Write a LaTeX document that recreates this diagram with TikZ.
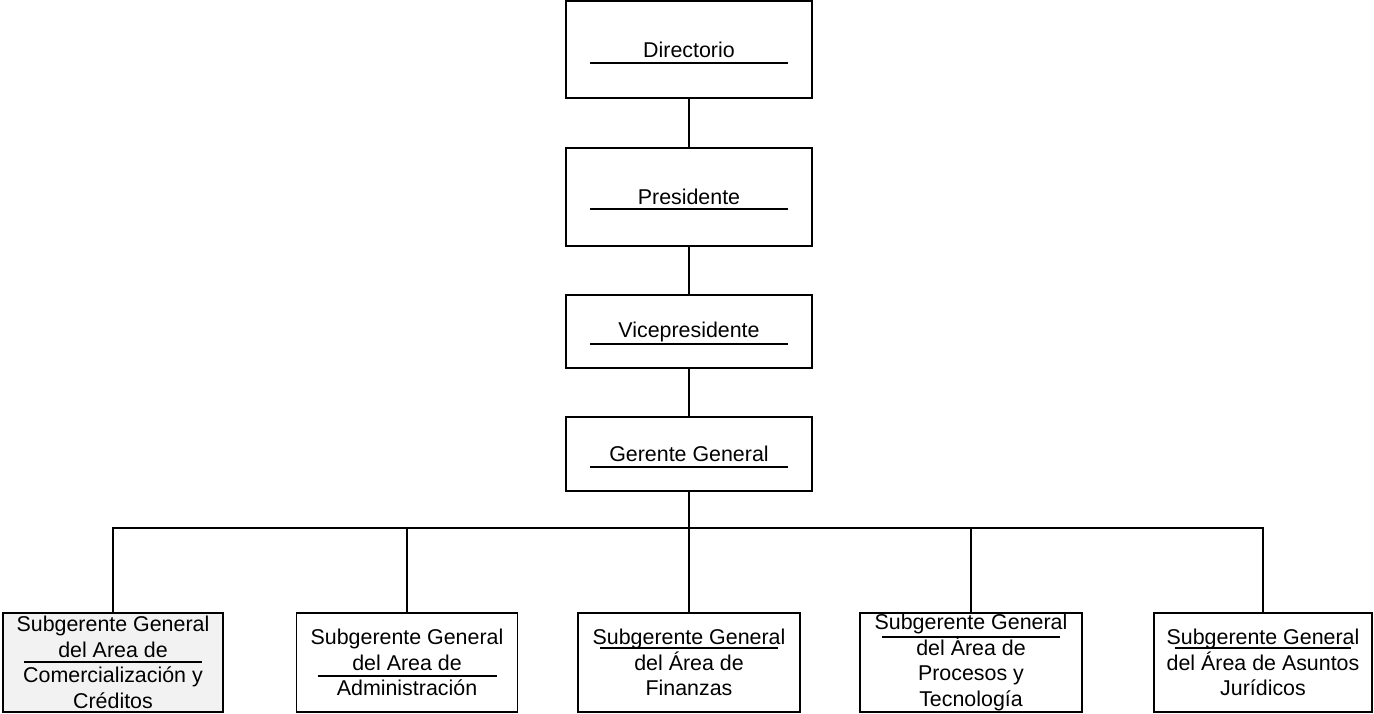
\documentclass[tikz,border=0pt]{standalone}
\usepackage{fontspec}
\setmainfont{Liberation Sans}
\usetikzlibrary{positioning,calc}

\begin{document}
\begin{tikzpicture}[x=1pt,y=-1pt,line width=1.2pt,
font=\fontsize{21.4}{25.5}\selectfont,
box/.style={draw,rectangle,align=center,inner sep=0pt,outer sep=0pt,minimum width=246pt},
sub/.style={draw,rectangle,align=center,inner sep=0pt,outer sep=0pt,minimum height=99pt},
bar/.style={line width=1.1pt}]
\useasboundingbox (0,0) rectangle (1374,713);
% linea de mando
\node[box,minimum height=97pt] (dir) at (689,49.5) {Directorio};
\node[box,minimum height=98pt,below=50pt of dir] (pres) {Presidente};
\node[box,minimum height=73pt,below=49pt of pres] (vice) {Vicepresidente};
\node[box,minimum height=74pt,below=49pt of vice] (ger) {Gerente General};
% subgerencias
\node[sub,minimum width=220pt,fill=black!5] (comer) at (113,662.5) {Subgerente General\\del Area de\\Comercialización y\\Créditos};
\node[sub,minimum width=221pt] (admin) at (407,662.5) {Subgerente General\\del Area de\\Administración};
\node[sub,minimum width=222pt] (fin) at (689,662.5) {Subgerente General\\del Área de\\Finanzas};
\node[sub,minimum width=222pt] (proc) at (971,662.5) {Subgerente General\\del Área de\\Procesos y\\Tecnología};
\node[sub,minimum width=218pt] (jur) at (1263,662.5) {Subgerente General\\del Área de Asuntos\\Jurídicos};
% rayas bajo el texto
\foreach \n/\d/\i in {dir/62/24,pres/61/24,vice/49/24,ger/50/24,comer/49/21,admin/63/21,fin/35/22,proc/24/22,jur/35/21}
  \draw[bar] ($(\n.north west)+(\i,\d)$) -- ($(\n.north east)+(-\i,\d)$);
\coordinate (bus) at (689,528);
\draw (dir)--(pres);\draw (pres)--(vice);\draw (vice)--(ger);
\draw (ger)--(fin);
\draw (comer.north)--(comer.north |- bus)--(jur.north |- bus)--(jur.north);
\draw (admin)--(admin |- bus);\draw (proc)--(proc |- bus);
\end{tikzpicture}
\end{document}
